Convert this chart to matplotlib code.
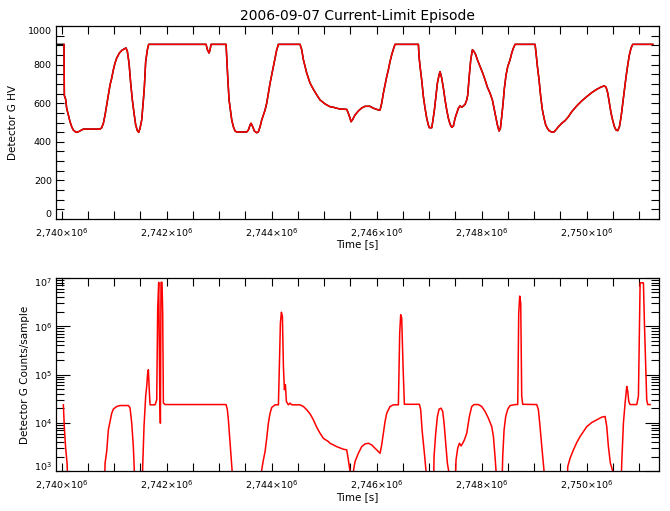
import matplotlib
matplotlib.use('Agg')
import matplotlib.pyplot as plt
import matplotlib.transforms as mtransforms
import numpy as np
from matplotlib.ticker import MultipleLocator, FixedLocator, FuncFormatter, LogLocator, NullFormatter

# ---- data ----
# detector G high voltage
hv_time = [2739905, 2740044, 2740051, 2740076, 2740095, 2740127, 2740159, 2740191, 2740222, 2740273,
           2740318, 2740381, 2740413, 2740730, 2740762, 2740794, 2740826, 2740857, 2740889, 2740921,
           2740953, 2740984, 2741016, 2741048, 2741099, 2741143, 2741194, 2741226, 2741251, 2741283,
           2741314, 2741346, 2741378, 2741410, 2741441, 2741467, 2741492, 2741524, 2741556, 2741575,
           2741600, 2741632, 2741657, 2742750, 2742775, 2742807, 2742826, 2742845, 2743131, 2743143,
           2743162, 2743188, 2743213, 2743239, 2743270, 2743302, 2743334, 2743524, 2743556, 2743588,
           2743607, 2743639, 2743670, 2743715, 2743747, 2743778, 2743810, 2743842, 2743874, 2743905,
           2743937, 2743969, 2744001, 2744032, 2744064, 2744096, 2744128, 2744540, 2744572, 2744604,
           2744636, 2744667, 2744699, 2744731, 2744794, 2744858, 2744921, 2745017, 2745111,
           2745175, 2745238, 2745302, 2745429, 2745460, 2745492, 2745511, 2745543, 2745587, 2745651,
           2745714, 2745778, 2745873, 2745937, 2746032, 2746064, 2746095, 2746127, 2746159, 2746191,
           2746222, 2746254, 2746286, 2746318, 2746349, 2746794, 2746806, 2746826, 2746857, 2746889,
           2746921, 2746953, 2746984, 2747003, 2747048, 2747067, 2747099, 2747130, 2747156, 2747188,
           2747207, 2747238, 2747270, 2747302, 2747334, 2747365, 2747397, 2747429, 2747461, 2747492,
           2747524, 2747556, 2747588, 2747619, 2747651, 2747683, 2747715, 2747734, 2747759, 2747791,
           2747823, 2747854, 2747886, 2747918, 2747969, 2748019, 2748064, 2748108, 2748159, 2748203,
           2748235, 2748267, 2748299, 2748330, 2748356, 2748381, 2748407, 2748432, 2748464, 2748496,
           2748540, 2748572, 2748604, 2748635, 2749016, 2749035, 2749061, 2749092, 2749124, 2749156,
           2749188, 2749219, 2749251, 2749289, 2749334, 2749378, 2749410, 2749461, 2749524, 2749588,
           2749651, 2749715, 2749810, 2749905, 2750000, 2750096, 2750191, 2750267, 2750331, 2750369,
           2750401, 2750432, 2750464, 2750496, 2750528, 2750559, 2750591, 2750623, 2750655, 2750686,
           2750718, 2750750, 2750782, 2750813, 2750845, 2750877, 2751258]
hv_volt = [905, 905, 640, 620, 574, 539, 504, 478, 461, 449,
           452, 461, 466, 466, 473, 496, 539, 591, 643, 695,
           730, 773, 808, 834, 860, 873, 882, 886, 868, 808,
           704, 617, 548, 487, 458, 449, 470, 513, 617, 686,
           816, 877, 905, 905, 877, 860, 877, 905, 905, 842,
           738, 617, 565, 513, 478, 456, 451, 451, 461, 487,
           496, 478, 456, 447, 452, 478, 513, 539, 565, 600,
           652, 704, 747, 790, 834, 877, 905, 905, 877, 825,
           790, 756, 730, 704, 672, 643, 617, 596, 582,
           579, 574, 570, 568, 548, 522, 504, 516, 539, 560,
           575, 584, 584, 574, 565, 565, 600, 652, 695, 738,
           773, 816, 851, 880, 905, 905, 842, 790, 721, 634,
           574, 522, 487, 473, 473, 504, 565, 643, 704, 747,
           764, 730, 678, 617, 565, 522, 492, 475, 482, 522,
           548, 574, 586, 579, 586, 594, 617, 643, 730, 825,
           877, 868, 851, 825, 790, 756, 721, 683, 652, 617,
           574, 530, 487, 456, 470, 530, 600, 678, 747, 790,
           825, 860, 886, 905, 905, 860, 790, 721, 634, 565,
           522, 487, 470, 456, 451, 451, 461, 478, 496, 510,
           530, 556, 586, 612, 634, 655, 672, 683, 690, 683,
           652, 600, 548, 510, 478, 461, 458, 478, 530, 600,
           669, 738, 799, 851, 886, 905, 905]

# detector G counts per sample (values below 1e3 fall off the axis)
cnt_time = [2740032, 2740051, 2740076, 2740102, 2740127, 2740815, 2740826, 2740857, 2740889, 2740921,
            2740953, 2740984, 2741048, 2741111, 2741270, 2741302, 2741334, 2741365, 2741384, 2741397,
            2741535, 2741543, 2741568, 2741600, 2741619, 2741638, 2741651, 2741664, 2741683, 2741778,
            2741810, 2741829, 2741848, 2741867, 2741880, 2741892, 2741911, 2741924, 2741937, 2741969,
            2743131, 2743156, 2743175, 2743194, 2743219, 2743245, 2743258, 2743800, 2743810, 2743842,
            2743874, 2743905, 2743937, 2743969, 2744001, 2744064, 2744128, 2744147, 2744166, 2744185,
            2744204, 2744223, 2744242, 2744261, 2744280, 2744318, 2744350, 2744382, 2744540, 2744604,
            2744667, 2744731, 2744794, 2744858, 2744921, 2744985, 2745080,
            2745111, 2745238, 2745365, 2745429, 2745460, 2745492, 2745505, 2745550, 2745556, 2745587,
            2745651, 2745714, 2745778, 2745841, 2745905, 2745968, 2746064, 2746095, 2746127, 2746159,
            2746191, 2746254, 2746318, 2746413, 2746438, 2746457, 2746476, 2746502, 2746527, 2746813,
            2746838, 2746864, 2746902, 2746940, 2746953, 2747080, 2747092, 2747124, 2747156, 2747188,
            2747226, 2747257, 2747283, 2747314, 2747346, 2747372, 2747384, 2747492, 2747511, 2747543,
            2747575, 2747607, 2747638, 2747670, 2747715, 2747734, 2747765, 2747810, 2747854, 2747937,
            2748000, 2748064, 2748127, 2748191, 2748223, 2748254, 2748273, 2748286, 2748381, 2748400,
            2748426, 2748457, 2748496, 2748540, 2748635, 2748686, 2748705, 2748724, 2748743, 2748762,
            2748781, 2749048, 2749080, 2749111, 2749150, 2749188, 2749200, 2749620, 2749639, 2749683,
            2749747, 2749810, 2749874, 2749937, 2750001, 2750096, 2750191, 2750286, 2750350, 2750382,
            2750413, 2750451, 2750496, 2750509, 2750648, 2750667, 2750699, 2750731, 2750763, 2750782,
            2750801, 2750826, 2750953, 2750985, 2751017, 2751080, 2751099, 2751124, 2751143, 2751162,
            2751207]
cnt_rate = [23700, 8000, 3000, 1500, 300, 300, 1465, 2560, 7200, 10700,
            15900, 19300, 21900, 22900, 22900, 20500, 9900, 3240, 1000, 300,
            300, 1250, 8400, 35800, 56600, 107000, 126000, 60000, 23700, 23700,
            30000, 2.4e6, 8.1e6, 56600, 9900, 8.1e6, 8.1e6, 1.87e6, 25700, 24000,
            24000, 18700, 11600, 6130, 2770, 1070, 300, 300, 1070, 1720,
            2560, 4800, 9900, 15900, 20900, 23700, 23700, 173000, 1.17e6, 1.95e6,
            1.6e6, 148000, 48700, 61700, 27700, 23700, 25700, 23700, 23700, 21900,
            18700, 15400, 11600, 8150, 6130, 4800, 4120,
            3800, 3240, 2860, 2770, 1720, 1000, 300, 300, 1000, 1590,
            2360, 3240, 3680, 3800, 3510, 3000, 2360, 3510, 6130, 10700,
            15900, 21900, 23700, 23700, 7.2e5, 1.73e6, 1.48e6, 148000, 24300, 24300,
            18700, 7200, 2770, 1000, 300, 300, 2010, 6130, 13600, 19300,
            20200, 17300, 9900, 3800, 1465, 1000, 300, 300, 1720, 3000,
            3800, 3350, 3800, 4460, 6130, 8400, 13600, 21900, 24000, 24000,
            21900, 17300, 12550, 8400, 5240, 2010, 1000, 300, 300, 2010,
            7200, 13600, 19300, 22900, 24000, 24000, 1.87e6, 4.2e6, 3.0e6, 35800,
            24300, 24000, 18700, 8400, 2770, 1000, 300, 300, 1250, 1860,
            2770, 3930, 5240, 6640, 8400, 10200, 11600, 13170, 13600, 8400,
            3240, 1465, 1000, 300, 300, 1465, 9900, 25700, 56900, 44700,
            27700, 24000, 24000, 35800, 7.9e6, 7.9e6, 1.17e6, 148000, 30000, 24000,
            24000]

x_min, x_max = 2739892, 2751377
x_major = [2740000, 2742000, 2744000, 2746000, 2748000, 2750000]


def time_label(v, pos):
    return '%s×10$^{6}$' % ('%.3f' % (v / 1e6)).replace('.', ',')


plt.rcParams['font.family'] = 'DejaVu Sans'
plt.rcParams['font.size'] = 7.5
plt.rcParams['xtick.labelsize'] = 6.8
plt.rcParams['ytick.labelsize'] = 6.8

fig = plt.figure(figsize=(6.7, 5.11), dpi=100)
ax1 = fig.add_axes([0.0836, 0.5714, 0.9, 0.3777])
ax2 = fig.add_axes([0.0836, 0.0777, 0.9, 0.3785])

# top panel: HV
ax1.plot(hv_time, hv_volt, color='black', lw=1.1)
ax1.plot(hv_time[1:], hv_volt[1:], color='red', lw=1.1)
ax1.set_ylim(0, 1000)
ax1.yaxis.set_major_locator(MultipleLocator(200))
ax1.yaxis.set_minor_locator(MultipleLocator(50))
ax1.set_ylabel('Detector G HV', labelpad=7)
ax1.set_title('2006-09-07 Current-Limit Episode', fontsize=10, pad=4)

# bottom panel: counts
ax2.plot(cnt_time, cnt_rate, color='red', lw=1.1)
ax2.set_yscale('log')
ax2.set_ylim(1e3, 1e7)
ax2.yaxis.set_major_locator(FixedLocator([1e3, 1e4, 1e5, 1e6, 1e7]))
ax2.yaxis.set_minor_locator(LogLocator(base=10, subs=np.arange(2, 10), numticks=10))
ax2.yaxis.set_minor_formatter(NullFormatter())
ax2.set_ylabel('Detector G Counts/sample', labelpad=3)

for ax in (ax1, ax2):
    ax.set_xlim(x_min, x_max)
    ax.xaxis.set_major_locator(FixedLocator(x_major))
    ax.xaxis.set_minor_locator(MultipleLocator(500))
    ax.xaxis.set_major_formatter(FuncFormatter(time_label))
    ax.set_xlabel('Time [s]', labelpad=0)
    ax.tick_params(which='both', direction='in', top=True, right=True, width=0.8)
    ax.tick_params(axis='x', which='both', pad=5)
    ax.tick_params(axis='y', which='both', pad=3)
    ax.tick_params(which='major', length=6)
    ax.tick_params(which='minor', length=6)
    for s in ax.spines.values():
        s.set_linewidth(0.9)

ax1.yaxis.set_major_locator(FixedLocator([0, 200, 400, 600, 800, 1000]))
ax2.tick_params(axis='y', which='major', length=10)
ax2.tick_params(axis='y', which='minor', length=6)

# keep the end labels of the y axes inside the frame, as in the original
fig.canvas.draw()
up = mtransforms.ScaledTranslation(0, 4 / 72, fig.dpi_scale_trans)
down = mtransforms.ScaledTranslation(0, -3 / 72, fig.dpi_scale_trans)
for ax in (ax1, ax2):
    ticks = ax.yaxis.get_major_ticks()
    ticks[0].label1.set_transform(ticks[0].label1.get_transform() + up)
    ticks[-1].label1.set_transform(ticks[-1].label1.get_transform() + down)

fig.savefig('out.png', dpi=100)
